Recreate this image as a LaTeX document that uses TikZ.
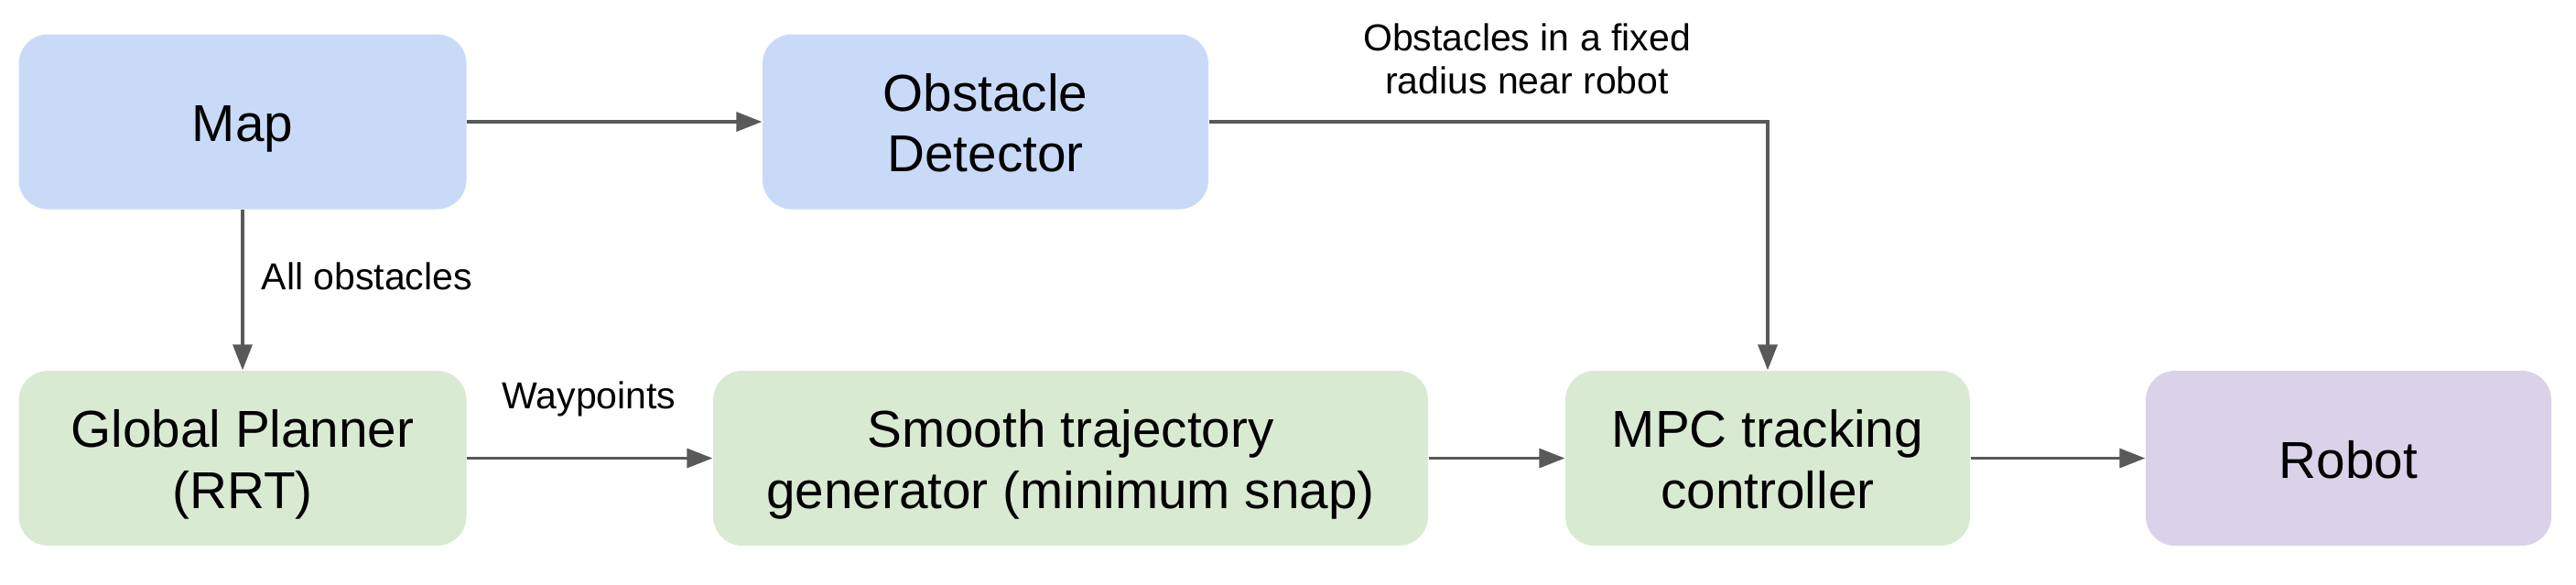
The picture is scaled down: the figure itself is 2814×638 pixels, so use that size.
\documentclass[tikz,border=0pt]{standalone}
\usepackage{fontspec}
\setmainfont{Liberation Sans}
\usetikzlibrary{arrows.meta}
\definecolor{boxblue}{HTML}{C9DAF8}
\definecolor{boxgreen}{HTML}{D9EAD3}
\definecolor{boxpurple}{HTML}{D9D2E9}
\definecolor{arrowgray}{HTML}{595959}
\newcommand\bigstrut{\rule[-3.55pt]{0pt}{20pt}}
\newcommand\smallstrut{\rule[-4.1pt]{0pt}{14.1pt}}
\tikzset{
  blockbox/.style={rounded corners=9.6pt, inner sep=0pt, align=center,
    minimum height=57.3pt, font=\fontsize{17}{20}\selectfont},
  bluebox/.style={blockbox, fill=boxblue},
  greenbox/.style={blockbox, fill=boxgreen},
  purplebox/.style={blockbox, fill=boxpurple},
  flow/.style={draw=arrowgray, line width=1pt,
    -{Triangle[length=8.4pt,width=6.3pt]}},
  edgelabel/.style={inner sep=0pt, font=\fontsize{12.3}{14.1}\selectfont, align=center}
}
\begin{document}
\begin{tikzpicture}[x=0.3pt,y=-0.3pt]
\useasboundingbox (0,0) rectangle (2814,638);
\node[bluebox, minimum width=146.7pt] (map) at (265,133) {Map\bigstrut};
\node[bluebox, minimum width=146.1pt] (obs) at (1076.5,133) {Obstacle\bigstrut\\Detector\bigstrut};
\node[greenbox, minimum width=146.7pt] (gp) at (265,500.5) {Global Planner\bigstrut\\(RRT)\bigstrut};
\node[greenbox, minimum width=234.3pt] (smooth) at (1169.5,500.5) {Smooth trajectory\bigstrut\\generator (minimum snap)\bigstrut};
\node[greenbox, minimum width=132.6pt] (mpc) at (1931,500.5) {MPC tracking\bigstrut\\controller\bigstrut};
\node[purplebox, minimum width=132.9pt] (robot) at (2565.5,500.5) {Robot\bigstrut};

\draw[flow] (map.east) -- (obs.west);
\draw[flow] (map.south) -- (gp.north);
\draw[flow] (gp.east) -- (smooth.west);
\draw[flow] (smooth.east) -- (mpc.west);
\draw[flow] (mpc.east) -- (robot.west);
\draw[flow] (obs.east) -| (mpc.north);

\node[edgelabel, anchor=base west] (lblall) at (285,316.5) {All obstacles};
\node[edgelabel, anchor=base] (lblway) at (643.5,446) {Waypoints};
\node[edgelabel] (lblobs) at (1668,68.7) {Obstacles in a fixed\smallstrut\\radius near robot\smallstrut};
\end{tikzpicture}
\end{document}
